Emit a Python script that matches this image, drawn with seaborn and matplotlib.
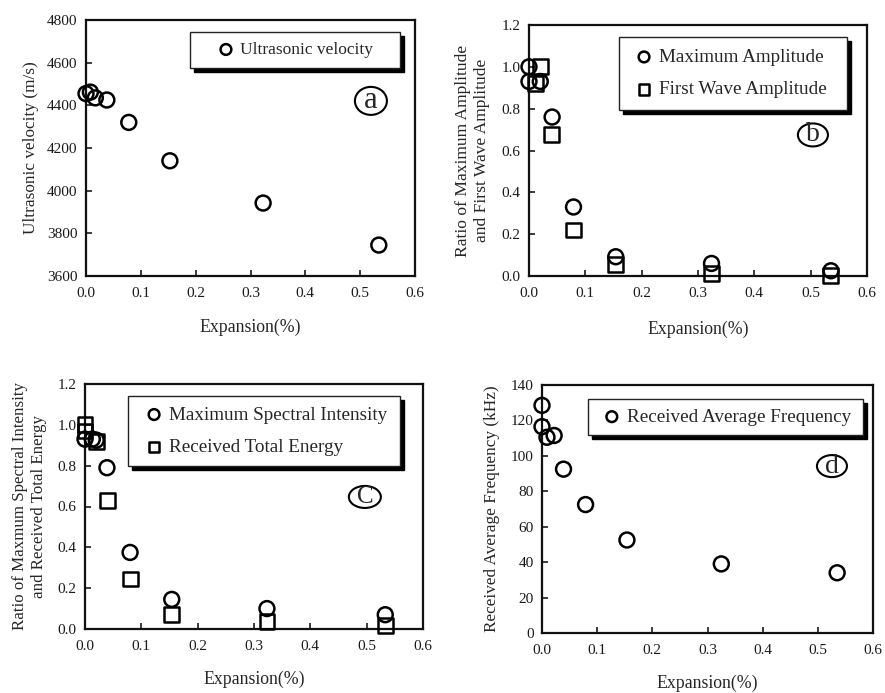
import matplotlib
matplotlib.use("Agg")
import matplotlib.pyplot as plt
from matplotlib.patches import Rectangle, Ellipse
import seaborn as sns

# ---------------- data ----------------
xa = [0.0, 0.008, 0.017, 0.038, 0.078, 0.153, 0.323, 0.534]
velocity = [4455, 4462, 4435, 4425, 4320, 4140, 3942, 3745]

xb_max = [0.0, 0.0, 0.02, 0.041, 0.079, 0.154, 0.324, 0.536]
max_amp = [1.0, 0.93, 0.93, 0.76, 0.33, 0.092, 0.06, 0.025]
xb_first = [0.021, 0.011, 0.04, 0.079, 0.154, 0.324, 0.536]
first_amp = [1.0, 0.92, 0.675, 0.22, 0.053, 0.013, 0.003]

xc_max = [0.0, 0.013, 0.02, 0.039, 0.08, 0.154, 0.323, 0.533]
max_spec = [0.93, 0.93, 0.925, 0.79, 0.375, 0.145, 0.1, 0.07]
xc_energy = [0.0, 0.0, 0.021, 0.04, 0.08, 0.154, 0.323, 0.533]
energy = [1.0, 0.97, 0.92, 0.63, 0.245, 0.07, 0.035, 0.015]

xd = [0.0, 0.0, 0.009, 0.022, 0.039, 0.079, 0.154, 0.325, 0.535]
freq = [128.5, 116.5, 110.5, 111.5, 92.5, 72.5, 52.5, 39.0, 34.0]

x_ticks = [0.0, 0.1, 0.2, 0.3, 0.4, 0.5, 0.6]
x_ticklabels = ["0.0", "0.1", "0.2", "0.3", "0.4", "0.5", "0.6"]

# ---------------- style ----------------
sns.set_style("ticks")
plt.rcParams["font.family"] = ["Liberation Serif", "DejaVu Serif"]
plt.rcParams["axes.linewidth"] = 1.6

W, H = 885, 693
fig = plt.figure(figsize=(W / 100, H / 100), dpi=100)


def make_axes(l, r, t, b):
    return fig.add_axes([l / W, 1 - b / H, (r - l) / W, (b - t) / H])


axa = make_axes(86, 415, 20, 276)
axb = make_axes(529, 867, 25, 276)
axc = make_axes(85, 423, 384, 629)
axd = make_axes(542, 873, 385, 633)

MS = 115
LW = 1.8


def hollow(ax, x, y, marker, label):
    sns.scatterplot(x=x, y=y, ax=ax, marker=marker, s=MS, facecolor="none",
                    edgecolor="black", linewidth=LW, label=label, zorder=3,
                    clip_on=False)


hollow(axa, xa, velocity, "o", "Ultrasonic velocity")
hollow(axb, xb_max, max_amp, "o", "Maximum Amplitude")
hollow(axb, xb_first, first_amp, "s", "First Wave Amplitude")
hollow(axc, xc_max, max_spec, "o", "Maximum Spectral Intensity")
hollow(axc, xc_energy, energy, "s", "Received Total Energy")
hollow(axd, xd, freq, "o", "Received Average Frequency")

axa.set_ylim(3600, 4800)
axa.set_yticks([3600, 3800, 4000, 4200, 4400, 4600, 4800])
for ax in (axb, axc):
    ax.set_ylim(0, 1.2)
    ax.set_yticks([0.0, 0.2, 0.4, 0.6, 0.8, 1.0, 1.2])
    ax.set_yticklabels(["0.0", "0.2", "0.4", "0.6", "0.8", "1.0", "1.2"])
axd.set_ylim(0, 140)
axd.set_yticks([0, 20, 40, 60, 80, 100, 120, 140])

for ax in (axa, axb, axc, axd):
    ax.set_xlim(0, 0.6)
    ax.set_xticks(x_ticks)
    ax.set_xticklabels(x_ticklabels)
    ax.tick_params(direction="in", length=4, width=1.2, labelsize=11,
                   colors="#1a1a1a")
    ax.tick_params(axis="x", pad=8)
    ax.tick_params(axis="y", pad=6)
    for sp in ax.spines.values():
        sp.set_visible(True)
        sp.set_color("#111111")
    ax.set_xlabel("Expansion(%)", fontsize=12.8)

axa.set_ylabel("Ultrasonic velocity (m/s)", fontsize=12.4)
axb.set_ylabel("Ratio of Maximum Amplitude\nand First Wave Amplitude",
               fontsize=12.6, linespacing=1.3)
axc.set_ylabel("Ratio of Maxmum Spectral Intensity\nand Received Total Energy",
               fontsize=12.2, linespacing=1.3)
axd.set_ylabel("Received Average Frequency (kHz)", fontsize=12.4)

axa.xaxis.set_label_coords(0.5, -0.168)
axb.xaxis.set_label_coords(0.5, -0.179)
axc.xaxis.set_label_coords(0.5, -0.171)
axd.xaxis.set_label_coords(0.5, -0.169)
axa.yaxis.set_label_coords(-0.143, 0.5)
axb.yaxis.set_label_coords(-0.115, 0.5)
axc.yaxis.set_label_coords(-0.112, 0.5)
axd.yaxis.set_label_coords(-0.127, 0.5)


def legend_box(ax, x0, x1, y0, y1, anchor, fs):
    axw = ax.get_position().width * W
    axh = ax.get_position().height * H
    sx, sy = 4 / axw, 4 / axh
    ax.add_patch(Rectangle((x0 + sx, y0 - sy), x1 - x0, y1 - y0,
                           transform=ax.transAxes, facecolor="black",
                           edgecolor="black", clip_on=False, zorder=5))
    ax.add_patch(Rectangle((x0, y0), x1 - x0, y1 - y0,
                           transform=ax.transAxes, facecolor="white",
                           edgecolor="#222222", linewidth=1.0,
                           clip_on=False, zorder=6))
    leg = ax.legend(loc="center left", bbox_to_anchor=anchor, frameon=False,
                    borderaxespad=0, borderpad=0, handlelength=1.0,
                    handletextpad=0.3, labelspacing=0.78, fontsize=fs,
                    markerscale=0.72)
    leg.set_zorder(7)


legend_box(axa, 0.316, 0.954, 0.8125, 0.953, (0.399, 0.883), 12.5)
legend_box(axb, 0.266, 0.941, 0.661, 0.952, (0.312, 0.807), 13.8)
legend_box(axc, 0.127, 0.932, 0.665, 0.951, (0.176, 0.808), 13.8)
legend_box(axd, 0.139, 0.970, 0.798, 0.944, (0.182, 0.871), 13.8)


def circled(ax, cx, cy, wpx, hpx, letter, fs):
    axw = ax.get_position().width * W
    axh = ax.get_position().height * H
    ax.add_patch(Ellipse((cx, cy), wpx / axw, hpx / axh,
                         transform=ax.transAxes, facecolor="none",
                         edgecolor="black", linewidth=1.5, zorder=4))
    ax.text(cx, cy, letter, transform=ax.transAxes, ha="center",
            va="center", fontsize=fs, zorder=4)


circled(axa, 0.866, 0.684, 32, 28, "a", 22)
circled(axb, 0.840, 0.562, 30, 23, "b", 20)
circled(axc, 0.828, 0.539, 32, 22, "C", 18)
circled(axd, 0.876, 0.673, 30, 22, "d", 20)

fig.savefig("out.png", dpi=100)
